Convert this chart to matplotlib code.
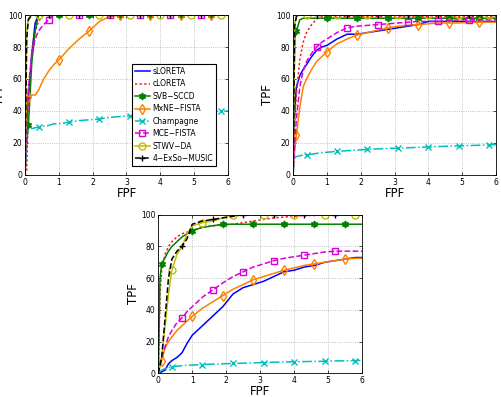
import matplotlib
matplotlib.use("Agg")
import matplotlib.pyplot as plt

fpf = [0, 0.05, 0.1, 0.2, 0.3, 0.4, 0.55, 0.7, 0.85, 1.0, 1.3, 1.6, 1.9, 2.2, 2.5,
       2.8, 3.1, 3.4, 3.7, 4.0, 4.3, 4.6, 4.9, 5.2, 5.5, 5.8, 6.0]

methods = ["sLORETA", "cLORETA", "SVB\u2212SCCD", "MxNE\u2212FISTA", "Champagne",
           "MCE\u2212FISTA", "STWV\u2212DA", "4\u2212ExSo\u2212MUSIC"]

# Panel 1 (top-left)
p1_sloreta = [0, 35, 48, 75, 95, 100, 100, 100, 100, 100, 100, 100, 100, 100, 100, 100, 100, 100, 100, 100, 100, 100, 100, 100, 100, 100, 100]
p1_cloreta = [0, 3, 45, 78, 90, 96, 100, 100, 100, 100, 100, 100, 100, 100, 100, 100, 100, 100, 100, 100, 100, 100, 100, 100, 100, 100, 100]
p1_svb = [0, 20, 31, 70, 90, 100, 100, 100, 100, 100, 100, 100, 100, 100, 100, 100, 100, 100, 100, 100, 100, 100, 100, 100, 100, 100, 100]
p1_mxne = [0, 48, 49, 50, 50, 53, 60, 65, 69, 72, 79, 85, 90, 96, 99, 100, 100, 100, 100, 100, 100, 100, 100, 100, 100, 100, 100]
p1_champ = [0, 27, 28, 29, 29.5, 30, 30.5, 31, 32, 32, 33, 34, 34.5, 35, 36, 36.5, 37, 37.5, 38, 38.3, 38.6, 39, 39.2, 39.4, 39.6, 39.8, 40]
p1_mce = [0, 30, 55, 75, 85, 90, 94, 97, 100, 100, 100, 100, 100, 100, 100, 100, 100, 100, 100, 100, 100, 100, 100, 100, 100, 100, 100]
p1_stwv = [0, 90, 98, 100, 100, 100, 100, 100, 100, 100, 100, 100, 100, 100, 100, 100, 100, 100, 100, 100, 100, 100, 100, 100, 100, 100, 100]
p1_exso = [0, 85, 97, 100, 100, 100, 100, 100, 100, 100, 100, 100, 100, 100, 100, 100, 100, 100, 100, 100, 100, 100, 100, 100, 100, 100, 100]

# Panel 2 (top-right)
p2_sloreta = [0, 40, 55, 62, 66, 69, 74, 78, 80, 81, 85, 88, 88, 89, 90, 91, 92, 93, 94, 96, 96, 96, 96, 96, 96, 96, 96]
p2_cloreta = [0, 35, 50, 72, 83, 89, 94, 97.5, 99, 99, 99, 99, 99, 99, 99, 99, 99, 99, 99, 99, 99, 99, 99, 99, 99, 99, 99]
p2_svb = [0, 85, 90, 97, 98, 98, 98, 98, 98, 98, 98, 98, 98, 98, 98, 98, 98, 98, 98, 98, 98, 98, 98, 98, 98, 98, 98]
p2_mxne = [0, 15, 25, 42, 55, 60, 66, 71, 74, 77, 82, 85, 87.5, 89, 90.5, 92, 93, 93.5, 94, 94.5, 95, 95, 95, 95.5, 95.5, 95.5, 95.5]
p2_champ = [0, 11, 11.5, 12, 12.5, 12.7, 13, 13.5, 14, 14.2, 14.8, 15.2, 15.6, 16, 16.3, 16.6, 16.8, 17, 17.3, 17.5, 17.8, 18, 18.2, 18.4, 18.6, 18.8, 19]
p2_mce = [0, 20, 35, 55, 65, 71, 76, 80, 83, 85, 89, 92, 93, 93.5, 94, 94.5, 95, 95.5, 96, 96, 96, 96.5, 97, 97, 97, 97, 97]
p2_stwv = [0, 95, 99, 100, 100, 100, 100, 100, 100, 100, 100, 100, 100, 100, 100, 100, 100, 100, 100, 100, 100, 100, 100, 100, 100, 100, 100]
p2_exso = [0, 93, 99, 100, 100, 100, 100, 100, 100, 100, 100, 100, 100, 100, 100, 100, 100, 100, 100, 100, 100, 100, 100, 100, 100, 100, 100]

# Panel 3 (bottom)
p3_sloreta = [0, 0, 1, 2, 6, 8, 10, 13, 19, 24, 30, 36, 42, 50, 54, 56, 58, 61, 64, 65, 67, 68, 70, 71, 72, 73, 73]
p3_cloreta = [0, 50, 65, 75, 80, 83, 86, 88, 89, 90, 92, 93, 93.5, 94, 95, 96, 97, 98, 98.5, 99, 99.5, 99.5, 100, 100, 100, 100, 100]
p3_svb = [0, 60, 69, 73, 77, 80, 83, 86, 88, 90, 92, 93, 94, 94, 94, 94, 94, 94, 94, 94, 94, 94, 94, 94, 94, 94, 94]
p3_mxne = [0, 5, 8, 16, 20, 23, 27, 30, 33, 36, 41, 45, 49, 53, 56, 59, 61, 63, 65, 66.5, 68, 69, 70, 71, 72, 72.5, 72.5]
p3_champ = [0, 1, 2, 3, 3.5, 4, 4.5, 4.8, 5, 5.2, 5.5, 5.8, 6, 6.2, 6.4, 6.6, 6.8, 7, 7.1, 7.3, 7.4, 7.5, 7.6, 7.8, 7.9, 8, 8.2]
p3_mce = [0, 6, 10, 17, 23, 27, 32, 35, 39, 42, 48, 52.5, 57, 61, 64, 67, 69, 71, 72.5, 73.5, 74.5, 75.5, 76.5, 77, 77, 77, 77]
p3_stwv = [0, 5, 10, 30, 50, 65, 75, 80, 88, 93, 95, 96, 98, 100, 100, 100, 100, 100, 100, 100, 100, 100, 100, 100, 100, 100, 100]
p3_exso = [0, 5, 10, 35, 60, 72, 77, 80, 85, 94, 96, 97, 98, 99, 100, 100, 100, 100, 100, 100, 100, 100, 100, 100, 100, 100, 100]

panels = [
    [p1_sloreta, p1_cloreta, p1_svb, p1_mxne, p1_champ, p1_mce, p1_stwv, p1_exso],
    [p2_sloreta, p2_cloreta, p2_svb, p2_mxne, p2_champ, p2_mce, p2_stwv, p2_exso],
    [p3_sloreta, p3_cloreta, p3_svb, p3_mxne, p3_champ, p3_mce, p3_stwv, p3_exso],
]

m_a = [2, 9, 12, 15, 18, 21, 24]
m_b = [5, 10, 13, 16, 19, 22, 25]
m_c = [7, 11, 14, 17, 20, 23]

hexagram = (6, 1, 0)
styles = [
    dict(color=(0, 0, 1), ls='-', marker=None, me=None),
    dict(color=(1, 0.1, 0.1), ls=(0, (1.5, 1.5)), marker=None, me=None),
    dict(color=(0, 0.5, 0), ls='-', marker=hexagram, me=m_a, mfc=(0, 0.5, 0)),
    dict(color=(1, 0.5, 0), ls='-', marker='d', me=m_a, mfc='none'),
    dict(color=(0, 0.75, 0.75), ls='-.', marker='x', me=m_b, mfc='none'),
    dict(color=(0.85, 0, 0.85), ls='--', marker='s', me=m_c, mfc='none'),
    dict(color=(0.75, 0.75, 0), ls='-', marker='o', me=m_b, mfc='none'),
    dict(color=(0, 0, 0), ls='--', marker='+', me=m_c, mfc='none'),
]

W, H = 501, 397
fig = plt.figure(figsize=(W / 100, H / 100), dpi=100)
rects = [
    (25 / W, (H - 175) / H, 203 / W, 160 / H),
    (293 / W, (H - 175) / H, 203 / W, 160 / H),
    (158.3 / W, (H - 373.3) / H, 203.7 / W, 158.6 / H),
]

for pi, (rect, data) in enumerate(zip(rects, panels)):
    ax = fig.add_axes(rect)
    for name, y, st in zip(methods, data, styles):
        kw = dict(color=st['color'], ls=st['ls'], lw=1.1, label=name)
        if st['marker'] is not None:
            kw.update(marker=st['marker'], markevery=st['me'], markersize=5,
                      mfc=st.get('mfc', 'none'), mec=st['color'], mew=1.0)
        ax.plot(fpf, y, **kw)
    ax.set_xlim(0, 6)
    ax.set_ylim(0, 100)
    ax.set_xticks(range(0, 7))
    ax.set_yticks(range(0, 101, 20))
    ax.grid(True, ls=':', color='#b0b0b0', lw=0.6)
    ax.tick_params(direction='in', top=True, right=True, labelsize=5.5,
                   length=2.5, width=0.5, pad=2)
    for sp in ax.spines.values():
        sp.set_linewidth(0.6)
    ax.set_xlabel('FPF', fontsize=8.5, labelpad=0)
    ax.set_ylabel('TPF', fontsize=8.5, labelpad=1)
    if pi == 0:
        leg = ax.legend(loc='lower right', bbox_to_anchor=(0.94, 0.056),
                        fontsize=5.5, frameon=True, fancybox=False,
                        edgecolor='black', framealpha=1, handlelength=2.0,
                        handletextpad=0.3, borderpad=0.4, labelspacing=0.45,
                        borderaxespad=0)
        leg.get_frame().set_linewidth(0.8)

fig.savefig('out.png', dpi=100)
